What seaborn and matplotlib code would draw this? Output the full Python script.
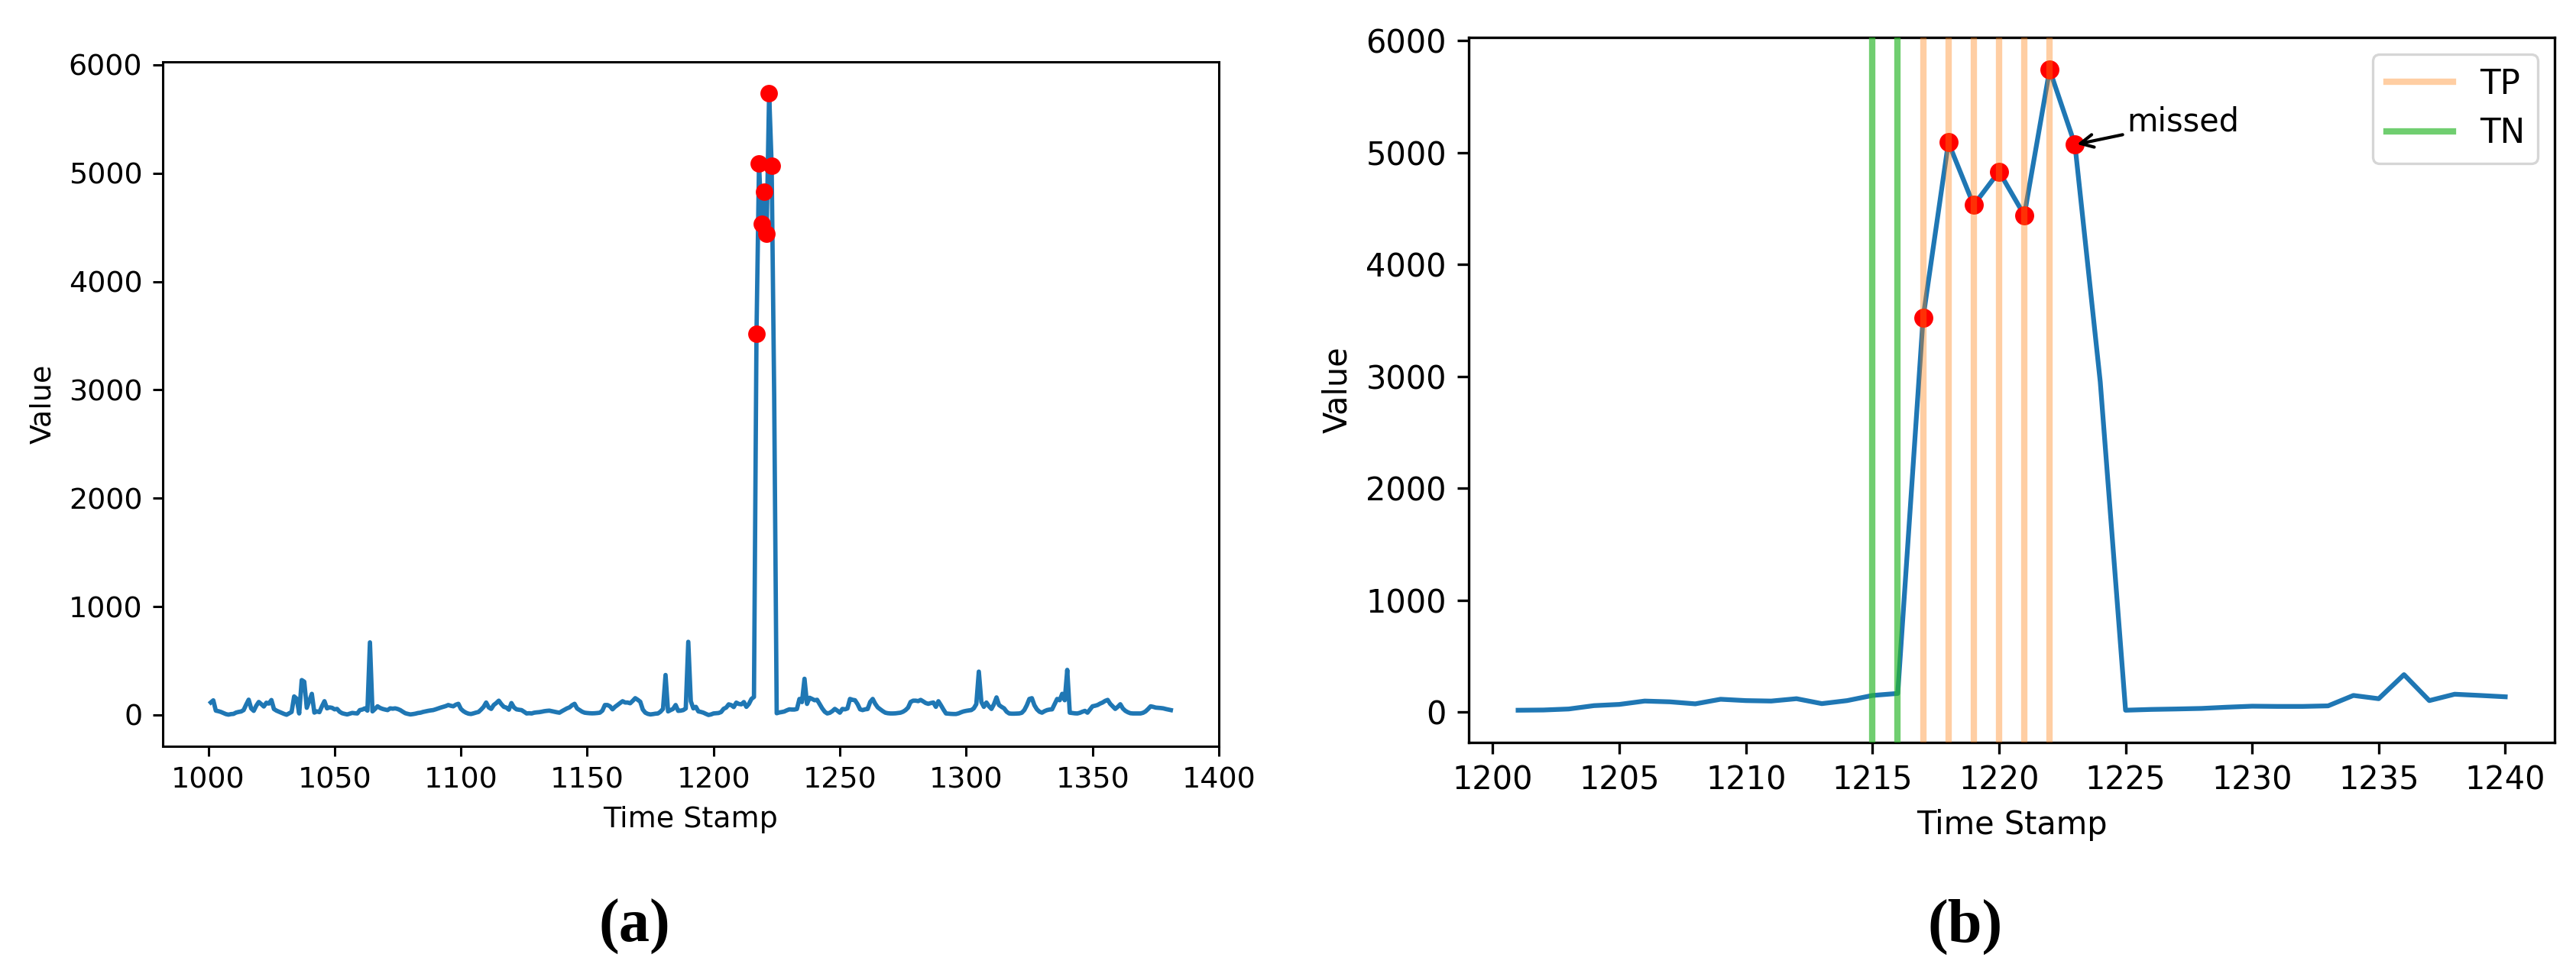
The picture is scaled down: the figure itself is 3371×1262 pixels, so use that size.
import numpy as np
import pandas as pd
import matplotlib
matplotlib.use("Agg")
import matplotlib.pyplot as plt
import seaborn as sns

# ---------------- data ----------------
first_time = 1001
values_1001_1100 = [
    115, 135, 40, 35, 28, 18, 8, 3, 8, 10,
    22, 28, 32, 45, 95, 141, 60, 38, 85, 120,
    100, 78, 113, 105, 138, 55, 40, 30, 20, 10,
    2, 15, 28, 171, 150, 14, 322, 307, 66, 130,
    195, 22, 33, 26, 80, 127, 61, 70, 66, 52,
    56, 30, 16, 10, 5, 12, 19, 16, 14, 45,
    50, 61, 40, 670, 33, 55, 80, 65, 56, 50,
    45, 61, 58, 61, 55, 45, 30, 16, 10, 5,
    8, 12, 18, 21, 28, 33, 38, 42, 45, 52,
    60, 68, 75, 82, 92, 85, 80, 95, 103, 56,
]
values_1101_1200 = [
    35, 21, 12, 9, 15, 22, 28, 50, 75, 115,
    70, 56, 92, 110, 132, 100, 75, 68, 49, 110,
    70, 52, 48, 45, 30, 14, 16, 14, 21, 24,
    26, 30, 35, 38, 40, 35, 30, 25, 21, 35,
    48, 61, 70, 90, 103, 60, 45, 30, 21, 18,
    16, 15, 16, 18, 21, 40, 92, 92, 80, 52,
    75, 92, 110, 127, 115, 115, 108, 130, 155, 140,
    122, 50, 21, 10, 5, 8, 12, 14, 30, 56,
    369, 33, 45, 56, 92, 38, 40, 45, 60, 675,
    127, 61, 75, 33, 28, 21, 10, 0, 5, 14,
]
values_1201_1240 = [
    16, 18, 27, 57, 68, 98, 91, 73, 114, 102,
    98, 119, 75, 102, 148, 166, 3520, 5090, 4530, 4830,
    4440, 5740, 5070, 2950, 16, 23, 27, 32, 43, 52,
    50, 50, 55, 148, 119, 334, 102, 159, 148, 136,
]
values_1241_1381 = [
    140, 100, 61, 30, 14, 20, 35, 56, 40, 21,
    56, 52, 60, 148, 140, 136, 100, 52, 45, 52,
    55, 120, 148, 103, 70, 52, 35, 21, 16, 14,
    14, 15, 18, 21, 30, 45, 68, 120, 132, 132,
    128, 139, 125, 110, 103, 110, 115, 75, 127, 90,
    50, 14, 12, 10, 9, 9, 15, 25, 33, 38,
    42, 45, 61, 100, 400, 120, 75, 115, 80, 56,
    100, 162, 92, 75, 61, 30, 14, 12, 12, 13,
    14, 20, 45, 90, 148, 155, 90, 52, 30, 21,
    35, 45, 50, 52, 100, 148, 136, 195, 136, 416,
    21, 18, 15, 14, 20, 30, 38, 21, 50, 80,
    85, 92, 105, 115, 130, 139, 103, 80, 56, 75,
    99, 60, 38, 25, 16, 14, 14, 14, 14, 20,
    33, 55, 80, 75, 68, 66, 64, 61, 55, 50,
    45,
]
detected_times = [1217, 1218, 1219, 1220, 1221, 1222, 1223]
tp_times = [1217, 1218, 1219, 1220, 1221, 1222]
tn_times = [1215, 1216]
missed_time = 1223
zoom_start, zoom_end = 1201, 1240
xticks_a = [1000, 1050, 1100, 1150, 1200, 1250, 1300, 1350, 1400]
xticks_b = [1200, 1205, 1210, 1215, 1220, 1225, 1230, 1235, 1240]
yticks = [0, 1000, 2000, 3000, 4000, 5000, 6000]
legend_labels = ["TP", "TN"]
annotation_text = "missed"
captions = ["(a)", "(b)"]

values = values_1001_1100 + values_1101_1200 + values_1201_1240 + values_1241_1381
df = pd.DataFrame({"Time Stamp": np.arange(first_time, first_time + len(values)),
                   "Value": values})
det = df[df["Time Stamp"].isin(detected_times)]
dz = df[(df["Time Stamp"] >= zoom_start) & (df["Time Stamp"] <= zoom_end)]
missed_value = float(df.loc[df["Time Stamp"] == missed_time, "Value"].iloc[0])

# ---------------- figure ----------------
plt.rcdefaults()
plt.rcParams["font.family"] = ["DejaVu Sans"]

W, H = 3371, 1262
DPI = 100
fig = plt.figure(figsize=(W / DPI, H / DPI), dpi=DPI)
BLUE = "#1f77b4"


def style(ax, k):
    for sp in ax.spines.values():
        sp.set_linewidth(0.8 * k)
    ax.tick_params(length=3.5 * k, width=0.8 * k, pad=3.5 * k, labelsize=10 * k)
    ax.xaxis.label.set_size(10 * k)
    ax.yaxis.label.set_size(10 * k)
    ax.xaxis.labelpad = 4 * k
    ax.yaxis.labelpad = 4 * k


# ---- panel (a) ----
kA = 2.74
axA = fig.add_axes([213 / W, 1 - 976.7 / H, (1595 - 213) / W, (976.7 - 81) / H])
sns.lineplot(data=df, x="Time Stamp", y="Value", ax=axA, color=BLUE,
             linewidth=1.5 * kA, zorder=2)
sns.scatterplot(data=det, x="Time Stamp", y="Value", ax=axA, color="red",
                s=(6 * kA) ** 2, linewidth=0, zorder=3)
axA.set_xticks(xticks_a)
axA.set_yticks(yticks)
style(axA, kA)

# ---- panel (b) ----
kB = 2.99
axB = fig.add_axes([1922 / W, 1 - 971.7 / H, (3343 - 1922) / W, (971.7 - 49.3) / H])
sns.lineplot(data=dz, x="Time Stamp", y="Value", ax=axB, color=BLUE,
             linewidth=1.5 * kB, zorder=2)
sns.scatterplot(data=det, x="Time Stamp", y="Value", ax=axB, color="red",
                s=(6 * kB) ** 2, linewidth=0, zorder=3)
tp_lines = [axB.axvline(t, color="#ff7f0e", alpha=0.38, lw=2 * kB, zorder=4)
            for t in tp_times]
tn_lines = [axB.axvline(t, color="#2cb82c", alpha=0.68, lw=2 * kB, zorder=4)
            for t in tn_times]
axB.set_xticks(xticks_b)
axB.set_yticks(yticks)
style(axB, kB)

leg = axB.legend([tp_lines[0], tn_lines[0]], legend_labels, loc="upper right",
                 fontsize=10.5 * kB)
leg.get_frame().set_linewidth(0.8 * kB)

axB.annotate(annotation_text, xy=(missed_time, missed_value),
             xytext=(missed_time + 2.05, missed_value + 120),
             fontsize=10 * kB,
             arrowprops=dict(arrowstyle="->", color="black", lw=1.0 * kB))

# ---- captions ----
fig.text(830 / W, 1 - 1213 / H, captions[0], ha="center", va="center",
         fontsize=58, fontweight="bold", family=["Liberation Serif", "DejaVu Serif"])
fig.text(2572 / W, 1 - 1213 / H, captions[1], ha="center", va="center",
         fontsize=58, fontweight="bold", family=["Liberation Serif", "DejaVu Serif"])

fig.savefig("out.png", dpi=DPI)
